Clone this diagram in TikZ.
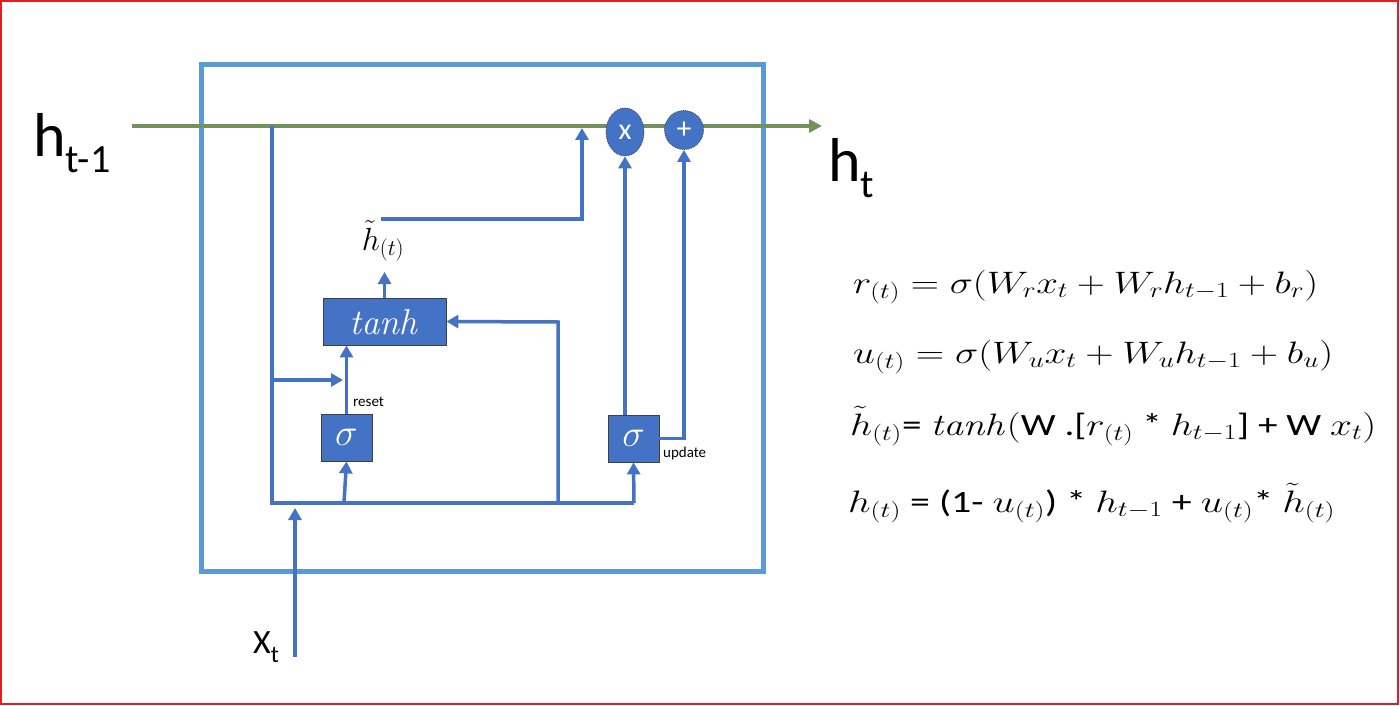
\RequirePackage{fix-cm}
\documentclass[tikz,border=0pt]{standalone}
\usepackage[no-math]{fontspec}
\usepackage{graphicx}
\setmainfont{Carlito}
\usetikzlibrary{arrows.meta,shapes.geometric}
\definecolor{cblue}{HTML}{4472C4}
\definecolor{lblue}{HTML}{5B9BD5}
\definecolor{cgreen}{HTML}{71925A}
\definecolor{cred}{HTML}{E02020}
\newcommand{\fsz}[1]{\fontsize{#1}{#1}\selectfont}
\tikzset{
  bline/.style={cblue, line width=3.5pt},
  barrow/.style={bline, -{Triangle[width=13pt,length=12pt]}},
  gate/.style={draw=black!75, line width=0.8pt, fill=cblue, text=white, inner sep=0pt, minimum width=51pt, minimum height=47pt},
  opnode/.style={draw=black!75, densely dotted, line width=0.8pt, fill=cblue, text=white, inner sep=0pt, font=\fsz{30}},
  lbl/.style={inner sep=0pt, anchor=base west},
}
\begin{document}
\begin{tikzpicture}[x=1pt,y=-1pt]
\useasboundingbox (0,0) rectangle (1400,706);
% frame
\draw[cred, line width=2pt] (1,1) rectangle (1398,704);
% outer cell box
\draw[lblue, line width=5pt] (201,65) rectangle (763,571);

% coordinates
\coordinate (hin) at (132,126);
\coordinate (hout) at (822,126);
\coordinate (jtop) at (272,126);
\coordinate (jbl) at (272,503);
\coordinate (jbr) at (634,503);
\coordinate (jr) at (344,503);
\coordinate (jt) at (558,503);
\coordinate (jtc) at (558,322);
\coordinate (jleft) at (272,380);
\coordinate (jreset) at (343,380);
\coordinate (hts) at (381,219);
\coordinate (htc) at (582,219);
\coordinate (htg) at (582,128);
\coordinate (xbot) at (295,657);
\coordinate (xtop) at (295,508);

% green state line
\draw[cgreen, line width=4pt, -{Triangle[width=13pt,length=13pt]}] (hin) -- (hout);

% nodes
\node[gate, minimum width=123pt] (tanh) at (384.5,321.5) {\fsz{36}$\mathit{tanh}$};
\node[gate] (rsig) at (346.5,437.5) {\fsz{38}$\sigma$};
\node[gate] (usig) at (633.5,438.5) {\fsz{38}$\sigma$};
\node[opnode, ellipse, minimum width=38pt, minimum height=48pt] (xop) at (625,132) {x};
\node[opnode, circle, minimum size=39pt] (pop) at (684,130) {+};
\node[inner sep=0pt] (ht) at (383,241) {\fsz{32}$\tilde{h}_{(t)}$};

% connectors
\draw[bline] (jtop) -- (jbl) -- (jbr);
\draw[barrow] (jbr) -- (usig.south);
\draw[barrow] (jr) -- (rsig.south);
\draw[barrow] (rsig.north) -- (rsig.north |- tanh.south);
\draw[barrow] (jleft) -- (jreset);
\draw[barrow] (tanh.north) -- (tanh.north |- 0,272);
\draw[barrow] (hts) -- (htc) -- (htg);
\draw[barrow] (jt) -- (jtc) -- (tanh.east);
\draw[barrow] (xop.south |- usig.north) -- (xop.south);
\draw[barrow] (usig.east) -| (pop.south);
\draw[barrow] (xbot) -- (xtop);

% labels
\node[lbl] (hprev) at (33,157) {\fsz{62}h\raisebox{-16pt}{\fsz{40}t-1}};
\node[lbl] (hnext) at (828,182) {\fsz{62}h\raisebox{-16pt}{\fsz{40}t}};
\node[lbl] (xt) at (253,653) {\fsz{34}X\raisebox{-9pt}{\fsz{24}t}};
\node[lbl] (lreset) at (353,406) {\fsz{15}reset};
\node[lbl] (lupdate) at (663,457) {\fsz{15}update};

% equations
\node[lbl] (eq1) at (853,293) {\fsz{31}\resizebox{465pt}{\height}{$r_{(t)} = \sigma(W_r x_t + W_r h_{t-1} + b_r)$}};
\node[lbl] (eq2) at (853,363) {\fsz{31}\resizebox{480pt}{\height}{$u_{(t)} = \sigma(W_u x_t + W_u h_{t-1} + b_u)$}};
\node[lbl] (eq3) at (850,435) {\fsz{31}\resizebox{526pt}{\height}{$\tilde{h}_{(t)}$= $\mathit{tanh}($W .[$r_{(t)}$ * $h_{t-1}$] + W $x_t)$}};
\node[lbl] (eq4) at (848,512) {\fsz{31}\resizebox{487pt}{\height}{$h_{(t)}$ = (1- $u_{(t)}$) * $h_{t-1}$ + $u_{(t)}$* $\tilde{h}_{(t)}$}};
\end{tikzpicture}
\end{document}
